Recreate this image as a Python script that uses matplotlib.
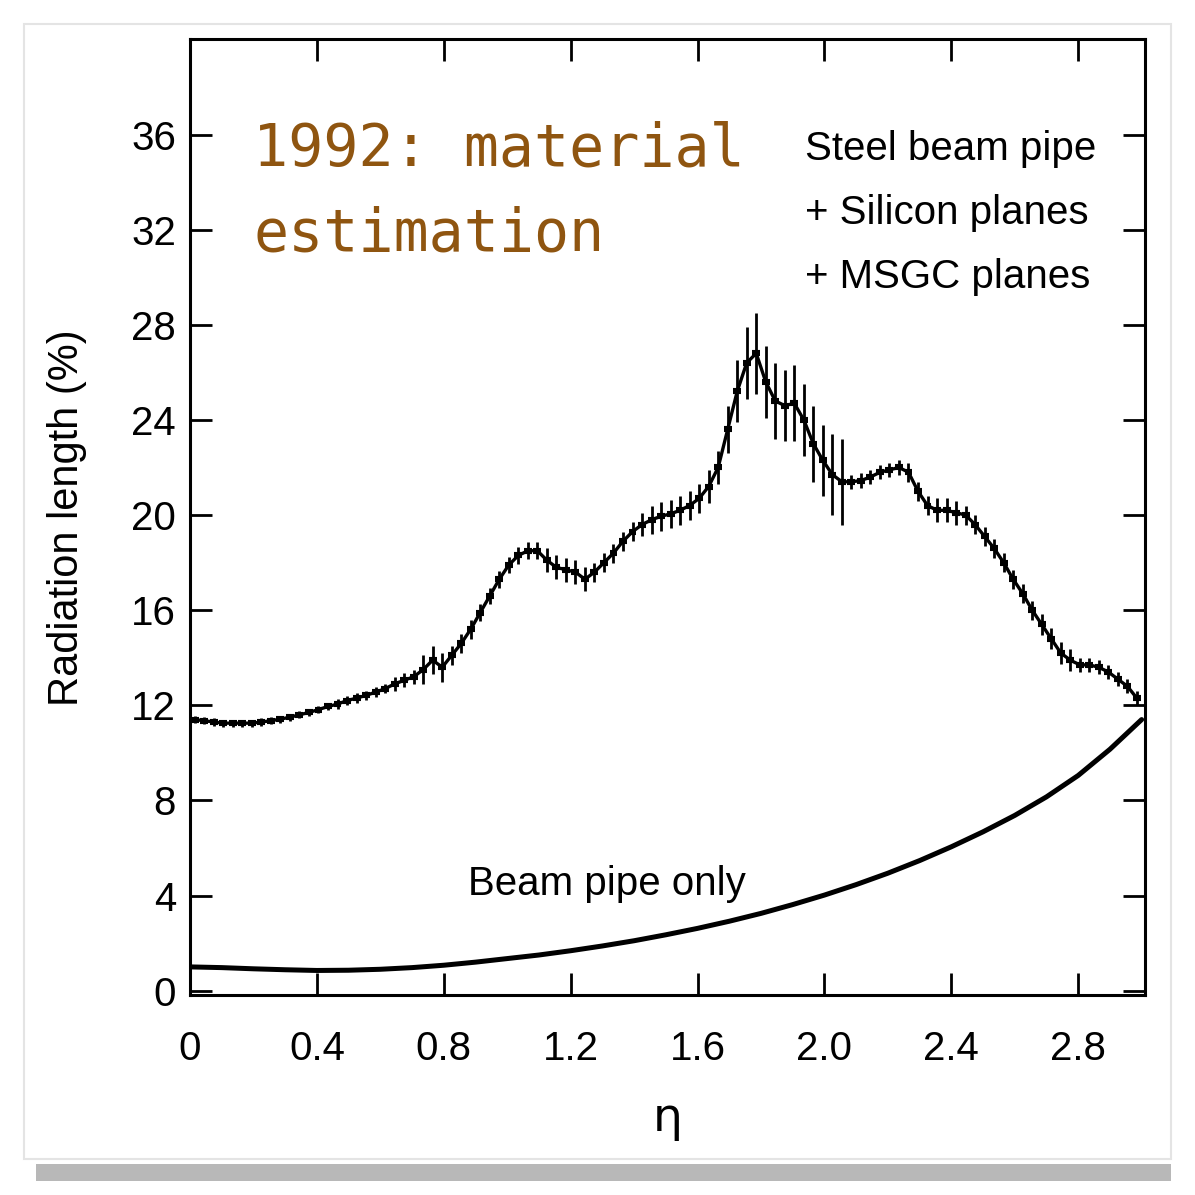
import matplotlib
matplotlib.use("Agg")
import matplotlib.pyplot as plt
from matplotlib.patches import Rectangle

# eta bins of the full detector (steel pipe + silicon + MSGC), bin width 0.03
eta_full = [round(0.015 + 0.03 * i, 3) for i in range(100)]
x0_full = [
    11.4, 11.35, 11.3, 11.25, 11.25, 11.25, 11.25, 11.3, 11.35, 11.42,
    11.5, 11.6, 11.7, 11.82, 11.95, 12.05, 12.2, 12.3, 12.42, 12.55,
    12.7, 12.9, 13.05, 13.2, 13.5, 13.9, 13.6, 14.1, 14.6, 15.2,
    15.9, 16.6, 17.3, 17.9, 18.3, 18.5, 18.5, 18.1, 17.8, 17.7,
    17.6, 17.3, 17.6, 18.0, 18.4, 18.9, 19.3, 19.6, 19.8, 19.95,
    20.05, 20.2, 20.4, 20.7, 21.2, 22.0, 23.6, 25.2, 26.4, 26.8,
    25.6, 24.8, 24.6, 24.7, 24.0, 23.0, 22.3, 21.7, 21.4, 21.4,
    21.45, 21.6, 21.8, 21.9, 22.0, 21.8, 21.0, 20.4, 20.2, 20.2,
    20.1, 20.0, 19.6, 19.1, 18.6, 18.0, 17.3, 16.7, 16.0, 15.4,
    14.8, 14.2, 13.9, 13.7, 13.7, 13.6, 13.4, 13.1, 12.8, 12.3,
]
err_full = [
    0.15, 0.15, 0.15, 0.15, 0.15, 0.15, 0.15, 0.15, 0.15, 0.15,
    0.15, 0.15, 0.15, 0.15, 0.15, 0.2, 0.2, 0.2, 0.2, 0.2,
    0.2, 0.3, 0.3, 0.3, 0.6, 0.6, 0.6, 0.4, 0.4, 0.4,
    0.35, 0.35, 0.35, 0.35, 0.35, 0.35, 0.35, 0.5, 0.5, 0.5,
    0.5, 0.5, 0.4, 0.4, 0.4, 0.4, 0.4, 0.5, 0.6, 0.6,
    0.6, 0.6, 0.6, 0.6, 0.7, 0.7, 1.0, 1.3, 1.5, 1.7,
    1.5, 1.6, 1.5, 1.6, 1.5, 1.6, 1.5, 1.7, 1.8, 0.3,
    0.3, 0.3, 0.3, 0.3, 0.3, 0.4, 0.4, 0.4, 0.5, 0.5,
    0.5, 0.4, 0.4, 0.4, 0.4, 0.4, 0.4, 0.4, 0.4, 0.45,
    0.45, 0.45, 0.45, 0.3, 0.3, 0.3, 0.3, 0.3, 0.3, 0.3,
]

# beam pipe only
eta_pipe = [round(0.1 * i, 1) for i in range(31)]
x0_pipe = [
    1.0, 0.97, 0.92, 0.88, 0.85, 0.86, 0.9, 0.97, 1.07, 1.2,
    1.35, 1.5, 1.68, 1.88, 2.1, 2.35, 2.62, 2.92, 3.25, 3.62,
    4.02, 4.46, 4.94, 5.47, 6.05, 6.68, 7.37, 8.15, 9.05, 10.15,
    11.4,
]

x_ticks = [0, 0.4, 0.8, 1.2, 1.6, 2.0, 2.4, 2.8]
x_tick_labels = ["0", "0.4", "0.8", "1.2", "1.6", "2.0", "2.4", "2.8"]
y_ticks = [0, 4, 8, 12, 16, 20, 24, 28, 32, 36]

legend_lines = ["Steel beam pipe", "+ Silicon planes", "+ MSGC planes"]

plt.rcParams["font.family"] = ["Liberation Sans", "DejaVu Sans"]

fig = plt.figure(figsize=(11.95, 11.95), dpi=100)
ax = fig.add_axes([0.159, 0.167, 0.799, 0.800])

# full detector: joining line, horizontal bin bars, vertical error bars
ax.plot(eta_full, x0_full, color="black", lw=2.4)
ax.errorbar(eta_full, x0_full, yerr=err_full, fmt="none",
            ecolor="black", elinewidth=2.0, capsize=0)
ax.errorbar(eta_full, x0_full, xerr=0.0125, fmt="none",
            ecolor="black", elinewidth=4.4, capsize=0)
ax.plot(eta_pipe, x0_pipe, color="black", lw=3.6, solid_capstyle="round")

ax.set_xlim(0, 3.01)
ax.set_ylim(-0.2, 40)
ax.set_xticks(x_ticks)
ax.set_xticklabels(x_tick_labels)
ax.set_yticks(y_ticks)
ax.tick_params(axis="both", which="major", direction="in", length=16, width=2,
               top=True, right=True, labelsize=29)
ax.tick_params(axis="x", pad=25)
ax.tick_params(axis="y", pad=10)
for sp in ax.spines.values():
    sp.set_linewidth(2.2)

ax.set_ylabel("Radiation length (%)", fontsize=30, labelpad=32)
ax.set_xlabel("η", fontsize=34, labelpad=20, family=["DejaVu Sans"])

for i, line in enumerate(legend_lines):
    ax.text(1.94, 35.4 - 2.7 * i, line, fontsize=29, ha="left", va="center")

ax.text(0.875, 4.5, "Beam pipe only", fontsize=29, ha="left", va="center")

# handwritten-style note
note_color = "#8f5510"
ax.text(0.2, 35.4, "1992: material", fontsize=42, color=note_color,
        family=["DejaVu Sans Mono"], ha="left", va="center")
ax.text(0.2, 31.8, "estimation", fontsize=42, color=note_color,
        family=["DejaVu Sans Mono"], ha="left", va="center")

# paper edge and shadow
fig.patches.append(Rectangle((0.02, 0.03), 0.96, 0.95, transform=fig.transFigure,
                             fill=False, edgecolor="#e4e4e4", lw=1.5))
fig.patches.append(Rectangle((0.03, 0.012), 0.95, 0.014, transform=fig.transFigure,
                             facecolor="#8a8a8a", edgecolor="none", alpha=0.6))

fig.savefig("out.png", dpi=100)
